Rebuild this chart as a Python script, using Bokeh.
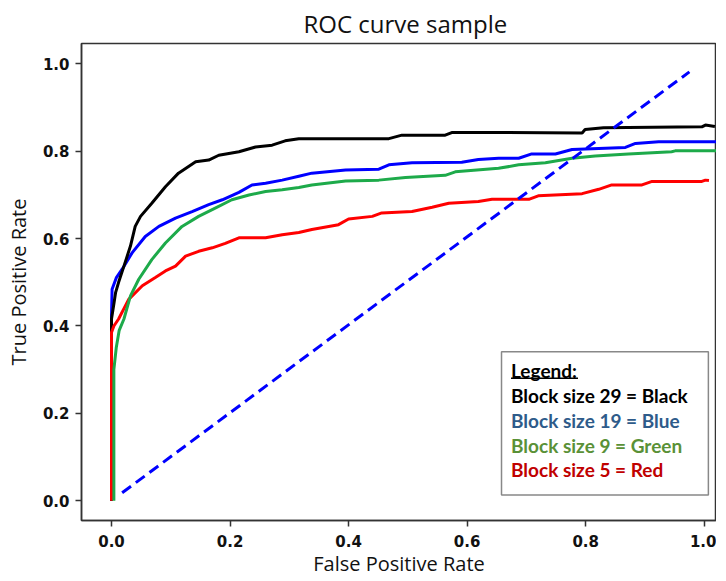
from bokeh.plotting import figure
from bokeh.models import Range1d, FixedTicker, Label
from bokeh.embed import file_html
from bokeh.resources import INLINE

# ---- data ----
black_x = [0.0, 0.0, 0.0, 0.004, 0.007, 0.012, 0.021, 0.032, 0.040, 0.049, 0.068, 0.091, 0.113, 0.142,
           0.164, 0.181, 0.215, 0.243, 0.271, 0.293, 0.316, 0.468, 0.490, 0.563, 0.574, 0.653, 0.794,
           0.799, 0.830, 0.996, 1.002, 1.018]
black_y = [0.0, 0.29, 0.416, 0.45, 0.477, 0.50, 0.537, 0.583, 0.628, 0.651, 0.681, 0.719, 0.750, 0.776,
           0.780, 0.791, 0.799, 0.810, 0.814, 0.824, 0.829, 0.829, 0.837, 0.837, 0.843, 0.843, 0.842,
           0.850, 0.854, 0.856, 0.860, 0.857]

blue_x = [0.0, 0.0, 0.001, 0.008, 0.018, 0.035, 0.057, 0.080, 0.108, 0.136, 0.164, 0.187, 0.215, 0.237,
          0.260, 0.288, 0.316, 0.338, 0.395, 0.451, 0.468, 0.507, 0.591, 0.619, 0.653, 0.687, 0.709,
          0.749, 0.777, 0.867, 0.884, 0.923, 1.021]
blue_y = [0.0, 0.423, 0.484, 0.51, 0.530, 0.568, 0.605, 0.628, 0.647, 0.662, 0.678, 0.689, 0.706, 0.723,
          0.727, 0.734, 0.743, 0.750, 0.757, 0.759, 0.769, 0.774, 0.775, 0.781, 0.784, 0.784, 0.794,
          0.794, 0.804, 0.809, 0.818, 0.822, 0.822]

green_x = [0.004, 0.004, 0.008, 0.013, 0.021, 0.032, 0.046, 0.068, 0.091, 0.119, 0.147, 0.175, 0.203,
           0.232, 0.260, 0.288, 0.316, 0.338, 0.395, 0.451, 0.496, 0.563, 0.580, 0.653, 0.687, 0.732,
           0.777, 0.816, 0.872, 0.945, 0.951, 1.024]
green_y = [0.0, 0.30, 0.35, 0.39, 0.416, 0.469, 0.507, 0.552, 0.590, 0.628, 0.651, 0.670, 0.689,
           0.700, 0.708, 0.712, 0.717, 0.723, 0.732, 0.734, 0.740, 0.745, 0.753, 0.761, 0.769, 0.774,
           0.784, 0.789, 0.794, 0.799, 0.801, 0.801]

red_x = [0.0, 0.0, 0.004, 0.012, 0.029, 0.052, 0.074, 0.091, 0.108, 0.125, 0.147, 0.170, 0.192, 0.215,
         0.260, 0.288, 0.316, 0.338, 0.383, 0.400, 0.440, 0.456, 0.507, 0.541, 0.569, 0.619, 0.642,
         0.704, 0.720, 0.794, 0.822, 0.844, 0.895, 0.912, 0.996, 1.002, 1.008]
red_y = [0.0, 0.385, 0.40, 0.416, 0.461, 0.492, 0.511, 0.526, 0.537, 0.560, 0.571, 0.579, 0.589, 0.602,
         0.602, 0.609, 0.614, 0.621, 0.632, 0.645, 0.651, 0.659, 0.662, 0.672, 0.681, 0.685, 0.690,
         0.690, 0.698, 0.703, 0.713, 0.723, 0.723, 0.731, 0.731, 0.734, 0.733]

diag_x = [0.018, 0.975]
diag_y = [0.018, 0.982]

ticks = [0.0, 0.2, 0.4, 0.6, 0.8, 1.0]
tick_labels = ["0.0", "0.2", "0.4", "0.6", "0.8", "1.0"]

title_text = "ROC curve sample"
x_label = "False Positive Rate"
y_label = "True Positive Rate"
legend_title = "Legend:"
legend_lines = ["Block size 29 = Black", "Block size 19 = Blue", "Block size 9 = Green", "Block size 5 = Red"]
legend_colors = ["#000000", "#2E5B8A", "#5A9137", "#C00000"]

# ---- figure ----
p = figure(width=716, height=579, output_backend="svg", toolbar_location=None,
           x_range=Range1d(-0.0506, 1.0207), y_range=Range1d(-0.0455, 1.0469),
           min_border_left=81, min_border_right=0, min_border_top=41, min_border_bottom=50)

p.title.text = title_text
p.title.text_font = "Open Sans"
p.title.text_font_size = "24px"
p.title.text_font_style = "normal"
p.title.align = "left"
p.title.offset = 222
p.title.text_color = "#111111"
p.title.standoff = 8

p.grid.visible = False
p.outline_line_color = "#333333"
p.outline_line_width = 1.5
p.background_fill_color = "white"
p.border_fill_color = "white"

for ax in (p.xaxis[0], p.yaxis[0]):
    ax.ticker = FixedTicker(ticks=ticks)
    ax.major_label_overrides = {t: l for t, l in zip(ticks, tick_labels)}
    ax.minor_tick_line_color = None
    ax.major_tick_out = 6
    ax.major_tick_in = 0
    ax.major_tick_line_color = "#333333"
    ax.major_tick_line_width = 1.5
    ax.axis_line_color = "#333333"
    ax.axis_line_width = 1.5
    ax.major_label_text_font = "DejaVu Sans"
    ax.major_label_text_font_size = "15px"
    ax.major_label_text_font_style = "bold"
    ax.major_label_text_color = "#111111"
    ax.axis_label_text_font = "Open Sans"
    ax.axis_label_text_font_size = "20px"
    ax.axis_label_text_font_style = "normal"
    ax.axis_label_text_color = "#111111"

p.xaxis.axis_label = x_label
p.yaxis.axis_label = y_label
p.xaxis.major_label_standoff = 8
p.xaxis.axis_label_standoff = 0
p.yaxis.major_label_standoff = 6
p.yaxis.axis_label_standoff = 8

lw = 3
p.line(blue_x, blue_y, line_color="#0000FF", line_width=lw)
p.line(black_x, black_y, line_color="#000000", line_width=lw)
p.line(red_x, red_y, line_color="#FF0000", line_width=lw)
p.line(green_x, green_y, line_color="#1DAA4A", line_width=lw)
p.line(diag_x, diag_y, line_color="#0000FF", line_width=lw, line_dash="11 6")

# ---- text legend box ----
bx0, bx1, by0, by1 = 0.658, 1.007, 0.013, 0.341
p.quad(left=[bx0], right=[bx1], bottom=[by0], top=[by1], fill_color="white",
       line_color="#888888", line_width=1.5)
tx = 0.674
rows_y = [0.297, 0.240, 0.183, 0.126, 0.071]
p.add_layout(Label(x=tx, y=rows_y[0], text=legend_title, text_font="Lato", text_font_size="19px",
                   text_font_style="bold", text_color="#000000", text_baseline="middle"))
p.segment(x0=[tx], x1=[tx + 0.113], y0=[0.280], y1=[0.280], line_color="#000000", line_width=1.5)
for txt, col, yy in zip(legend_lines, legend_colors, rows_y[1:]):
    p.add_layout(Label(x=tx, y=yy, text=txt, text_font="Lato", text_font_size="19px",
                       text_font_style="bold", text_color=col, text_baseline="middle"))

open("out.html", "w").write(file_html(p, INLINE))
